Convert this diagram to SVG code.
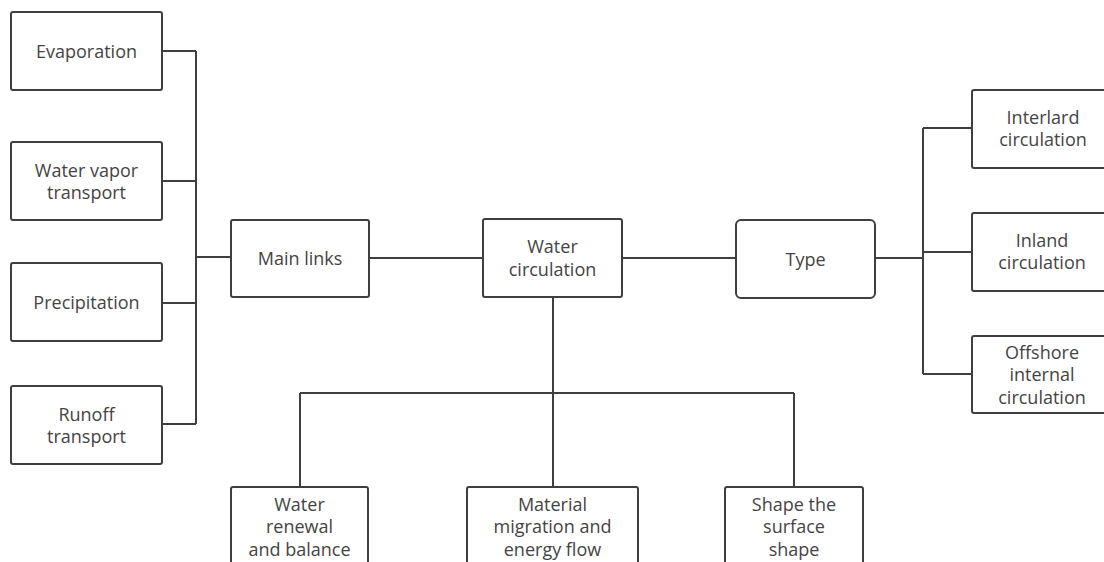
<svg xmlns="http://www.w3.org/2000/svg" width="1104" height="562" viewBox="0 0 1104 562">
<style>
.box{fill:#fff;stroke:#3f3f3f;stroke-width:2}
.lbl{font-family:"Open Sans","Noto Sans",sans-serif;font-size:18px;fill:#444;text-anchor:middle}
.con{fill:none;stroke:#3f3f3f;stroke-width:2}
</style>
<rect width="1104" height="562" fill="#fff"/>
<g id="connectors">
<path class="con" d="M162,51H196M162,181H196M162,303H196M162,424H196M196,51V424M196,257H231"/>
<path class="con" d="M369,258H483M622,258H736M875,258H923M923,128V374M923,128H972M923,252H972M923,374H972"/>
<path class="con" d="M553,297V393M300,393H794M300,393V487M553,393V487M794,393V487"/>
</g>
<g id="evaporation"><rect class="box" x="11" y="12" width="151" height="78" rx="2"/><text class="lbl" x="86.5" y="57.5">Evaporation</text></g>
<g id="water-vapor"><rect class="box" x="11" y="142" width="151" height="78" rx="2"/><text class="lbl" x="86.5" y="176.5">Water vapor</text><text class="lbl" x="86.5" y="199">transport</text></g>
<g id="precipitation"><rect class="box" x="11" y="263" width="151" height="78" rx="2"/><text class="lbl" x="86.5" y="308.5">Precipitation</text></g>
<g id="runoff"><rect class="box" x="11" y="386" width="151" height="78" rx="2"/><text class="lbl" x="86.5" y="420.5">Runoff</text><text class="lbl" x="86.5" y="443">transport</text></g>
<g id="main-links"><rect class="box" x="231" y="220" width="138" height="77" rx="2"/><text class="lbl" x="300" y="264.5">Main links</text></g>
<g id="water-circulation"><rect class="box" x="483" y="219" width="139" height="78" rx="2"/><text class="lbl" x="552.5" y="253">Water</text><text class="lbl" x="552.5" y="275.5">circulation</text></g>
<g id="type"><rect class="box" x="736" y="220" width="139" height="78" rx="5"/><text class="lbl" x="805.5" y="265.5">Type</text></g>
<g id="interlard"><rect class="box" x="972" y="90" width="142" height="78" rx="2"/><text class="lbl" x="1043" y="123.5">Interlard</text><text class="lbl" x="1043" y="146">circulation</text></g>
<g id="inland"><rect class="box" x="972" y="213" width="142" height="78" rx="2"/><text class="lbl" x="1042" y="246.5">Inland</text><text class="lbl" x="1042" y="269">circulation</text></g>
<g id="offshore"><rect class="box" x="972" y="336" width="142" height="77" rx="2"/><text class="lbl" x="1042" y="358.5">Offshore</text><text class="lbl" x="1042" y="381">internal</text><text class="lbl" x="1042" y="403.5">circulation</text></g>
<g id="water-renewal"><rect class="box" x="231" y="487" width="137" height="78" rx="2"/><text class="lbl" x="299.5" y="510.5">Water</text><text class="lbl" x="299.5" y="533">renewal</text><text class="lbl" x="299.5" y="555.5">and balance</text></g>
<g id="material-migration"><rect class="box" x="467" y="487" width="171" height="78" rx="2"/><text class="lbl" x="552.5" y="510.5">Material</text><text class="lbl" x="552.5" y="533">migration and</text><text class="lbl" x="552.5" y="555.5">energy flow</text></g>
<g id="shape-surface"><rect class="box" x="725" y="487" width="138" height="78" rx="2"/><text class="lbl" x="794" y="510.5">Shape the</text><text class="lbl" x="794" y="533">surface</text><text class="lbl" x="794" y="555.5">shape</text></g>
</svg>
